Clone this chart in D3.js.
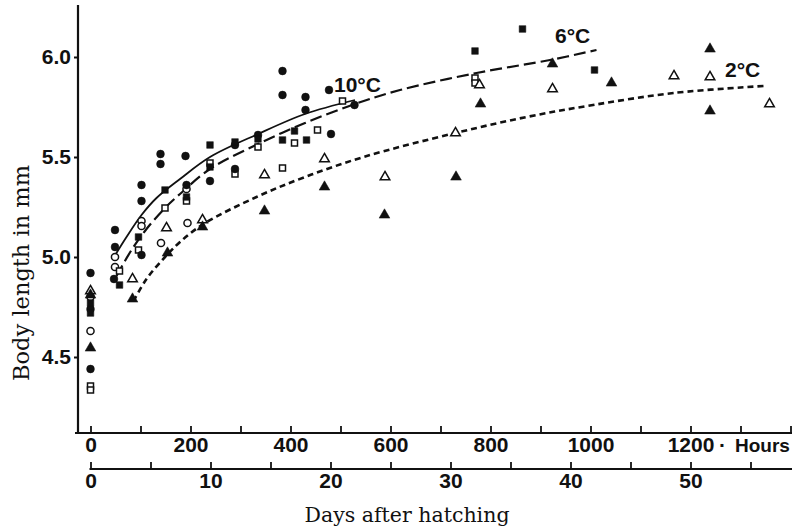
<!DOCTYPE html>
<html><head><meta charset="utf-8">
<script src="https://cdn.jsdelivr.net/npm/d3@7"></script>
<style>
html,body{margin:0;padding:0;background:#fff;}
svg{display:block;}
.tk{font-family:"Liberation Sans",Arial,sans-serif;font-weight:bold;font-size:21px;fill:#111;}
.ser{font-family:"DejaVu Serif",serif;fill:#111;}
</style></head>
<body>
<svg id="c" width="795" height="529"></svg>
<script>
// ---- data (hours after hatching, body length mm) ----
const hourTicks = [0,100,200,300,400,500,600,700,800,900,1000,1100,1200,1300,1400];
const hourLabels = [0,200,400,600,800,1000,1200];
const dayTicks = [0,5,10,15,20,25,30,35,40,45,50,55];
const dayLabels = [0,10,20,30,40,50];
const lengthTicks = [4.5,5.0,5.5,6.0];

// 10°C
const filledCircles = [[0,4.92],[0,4.74],[0,4.44],[49,5.135],[49,5.05],[47,4.89],[102,5.36],[102,5.28],[102,5.01],
  [140,5.515],[140,5.465],[190,5.505],[192,5.36],[239,5.38],[289,5.56],[289,5.44],[335,5.61],
  [384,5.93],[384,5.81],[430,5.80],[430,5.735],[481,5.615],[477,5.835],[528,5.76]];
const openCircles = [[0,4.80],[0,4.63],[49,5.0],[49,4.95],[102,5.18],[102,5.155],[141,5.07],[192,5.34],[194,5.17]];
// 6°C
const filledSquares = [[0,4.77],[0,4.72],[58,4.86],[96,5.10],[149,5.335],[192,5.30],[239,5.56],[239,5.45],
  [289,5.575],[335,5.59],[384,5.585],[408,5.63],[432,5.585],[769,6.03],[864,6.14],[1008,5.935]];
const openSquares = [[0,4.355],[0,4.335],[58,4.93],[96,5.035],[149,5.245],[192,5.28],[239,5.47],[289,5.415],
  [335,5.55],[384,5.445],[408,5.57],[454,5.635],[504,5.78],[769,5.895],[769,5.87]];
// 2°C
const filledTriangles = [[0,4.81],[0,4.545],[84,4.79],[154,5.02],[224,5.15],[348,5.23],[468,5.35],[588,5.21],
  [731,5.40],[780,5.765],[924,5.965],[1042,5.87],[1239,6.04],[1239,5.73]];
const openTriangles = [[0,4.83],[84,4.89],[152,5.145],[224,5.185],[348,5.41],[468,5.49],[589,5.40],[730,5.62],
  [778,5.86],[924,5.84],[1167,5.905],[1239,5.90],[1358,5.765]];

const curve10 = [[47,5.0],[72,5.10],[102,5.21],[132,5.295],[179,5.39],[239,5.50],[335,5.615],[429,5.715],[529,5.785]];
const curve6 = [[52,4.905],[82,5.035],[112,5.14],[149,5.245],[179,5.315],[239,5.44],[335,5.565],[429,5.67],[529,5.765],
  [619,5.835],[772,5.92],[919,5.985],[1012,6.035]];
const curve2 = [[86,4.78],[112,4.89],[149,5.0],[179,5.075],[226,5.165],[332,5.30],[429,5.40],[546,5.50],[730,5.62],
  [872,5.70],[1005,5.76],[1166,5.82],[1346,5.855]];

// ---- drawing ----
const svg = d3.select("#c");
const x = d3.scaleLinear().domain([0,1400]).range([90.5,790.5]);
const xd = d3.scaleLinear().domain([0,1400/24]).range([90.5,790.5]);
const y = d3.scaleLinear().domain([4.5,6.0]).range([357,57]);
const ink = "#111";

// y axis
const yAx = svg.append("g").attr("transform","translate(78,0)")
  .call(d3.axisLeft(y).tickValues(lengthTicks).tickFormat(d3.format(".1f")).tickSizeInner(4).tickSizeOuter(0).tickPadding(3));
yAx.select(".domain").remove();
yAx.selectAll("line").attr("stroke",ink).attr("stroke-width",2);
yAx.selectAll("text").attr("class","tk").attr("font-family",null).attr("font-size",null);
svg.append("line").attr("x1",78).attr("x2",78).attr("y1",5).attr("y2",434).attr("stroke",ink).attr("stroke-width",2.2);

// hours axis
const hAx = svg.append("g").attr("transform","translate(0,433)")
  .call(d3.axisBottom(x).tickValues(hourTicks).tickSizeInner(-7).tickSizeOuter(0).tickPadding(4)
    .tickFormat(d => hourLabels.includes(d) ? String(d) : ""));
hAx.select(".domain").remove();
hAx.selectAll("line").attr("stroke",ink).attr("stroke-width",1.8);
hAx.selectAll("text").attr("class","tk").attr("font-family",null).attr("font-size",null);
svg.append("line").attr("x1",75).attr("x2",792).attr("y1",433).attr("y2",433).attr("stroke",ink).attr("stroke-width",2.2);
svg.append("text").attr("class","tk").attr("x",719).attr("y",452).text("·");
svg.append("text").attr("class","tk").attr("x",735).attr("y",452).style("font-size","19px").text("Hours");

// days axis
const dAx = svg.append("g").attr("transform","translate(0,469)")
  .call(d3.axisBottom(xd).tickValues(dayTicks).tickSizeInner(-7).tickSizeOuter(0).tickPadding(4)
    .tickFormat(d => dayLabels.includes(d) ? String(d) : ""));
dAx.select(".domain").remove();
dAx.selectAll("line").attr("stroke",ink).attr("stroke-width",1.8);
dAx.selectAll("text").attr("class","tk").attr("font-family",null).attr("font-size",null);
svg.append("line").attr("x1",89.5).attr("x2",792).attr("y1",469).attr("y2",469).attr("stroke",ink).attr("stroke-width",1.8);

// axis titles
svg.append("text").attr("class","ser").attr("font-size",22.5)
  .attr("transform","translate(29,273) rotate(-90)").attr("text-anchor","middle").text("Body length in mm");
svg.append("text").attr("class","ser").attr("font-size",20.5)
  .attr("x",407).attr("y",522).attr("text-anchor","middle").text("Days after hatching");

// curves
const line = d3.line().x(d => x(d[0])).y(d => y(d[1])).curve(d3.curveCatmullRom.alpha(0.5));
svg.append("path").attr("d",line(curve10)).attr("fill","none").attr("stroke",ink).attr("stroke-width",1.8);
svg.append("path").attr("d",line(curve6)).attr("fill","none").attr("stroke",ink).attr("stroke-width",2.2)
  .attr("stroke-dasharray","12,5");
svg.append("path").attr("d",line(curve2)).attr("fill","none").attr("stroke",ink).attr("stroke-width",2.6)
  .attr("stroke-dasharray","6,4");

// curve labels
svg.append("text").attr("class","tk").attr("x",334).attr("y",92).style("font-size","21px").text("10°C");
svg.append("text").attr("class","tk").attr("x",555).attr("y",43).style("font-size","21px").text("6°C");
svg.append("text").attr("class","tk").attr("x",725).attr("y",77).style("font-size","21px").text("2°C");

// markers
function draw(data, type, size, filled) {
  svg.append("g").selectAll("path").data(data).join("path")
    .attr("transform", d => `translate(${x(d[0])},${y(d[1])})`)
    .attr("d", d3.symbol().type(type).size(size)())
    .attr("fill", filled ? ink : "#fff")
    .attr("stroke", ink).attr("stroke-width", filled ? 0.5 : 1.5);
}
draw(openCircles, d3.symbolCircle, 40, false);
draw(openSquares, d3.symbolSquare, 36, false);
draw(openTriangles, d3.symbolTriangle, 40, false);
draw(filledCircles, d3.symbolCircle, 48, true);
draw(filledSquares, d3.symbolSquare, 44, true);
draw(filledTriangles, d3.symbolTriangle, 50, true);
</script>
</body></html>
